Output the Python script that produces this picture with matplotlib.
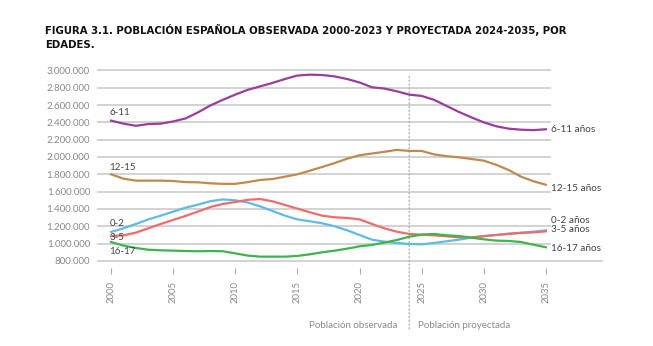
import matplotlib
matplotlib.use("Agg")
import matplotlib.pyplot as plt

# datos (2000-2035)
anios = list(range(2000, 2036))

edad_6_11 = [2420000, 2385000, 2360000, 2380000, 2385000, 2410000, 2445000, 2515000, 2595000, 2660000,
             2720000, 2775000, 2815000, 2855000, 2900000, 2940000, 2950000, 2946000, 2930000, 2900000,
             2860000, 2805000, 2790000, 2758000, 2720000, 2705000, 2660000, 2590000, 2520000, 2458000,
             2400000, 2355000, 2327000, 2315000, 2310000, 2320000]
edad_12_15 = [1800000, 1750000, 1727000, 1727000, 1727000, 1723000, 1710000, 1708000, 1696000, 1690000,
              1690000, 1710000, 1735000, 1746000, 1773000, 1800000, 1842000, 1885000, 1930000, 1980000,
              2020000, 2040000, 2060000, 2082000, 2070000, 2070000, 2030000, 2010000, 1996000, 1977000,
              1958000, 1910000, 1850000, 1773000, 1720000, 1680000]
edad_0_2 = [1135000, 1177000, 1227000, 1280000, 1323000, 1369000, 1415000, 1450000, 1490000, 1510000,
            1500000, 1475000, 1430000, 1377000, 1323000, 1280000, 1258000, 1235000, 1200000, 1154000,
            1100000, 1046000, 1023000, 1008000, 996000, 992000, 1008000, 1027000, 1046000, 1069000,
            1088000, 1100000, 1115000, 1127000, 1138000, 1154000]
edad_3_5 = [1088000, 1096000, 1127000, 1177000, 1227000, 1273000, 1320000, 1370000, 1423000, 1458000,
            1480000, 1506000, 1515000, 1488000, 1446000, 1404000, 1362000, 1323000, 1304000, 1296000,
            1280000, 1227000, 1177000, 1138000, 1112000, 1104000, 1096000, 1085000, 1073000, 1073000,
            1085000, 1100000, 1112000, 1123000, 1130000, 1142000]
edad_16_17 = [1019000, 977000, 950000, 930000, 923000, 919000, 915000, 912000, 915000, 912000,
              888000, 862000, 850000, 850000, 850000, 858000, 877000, 900000, 919000, 942000,
              969000, 985000, 1012000, 1042000, 1080000, 1104000, 1112000, 1096000, 1088000, 1069000,
              1050000, 1035000, 1031000, 1019000, 988000, 958000]

series = [
    ("6-11", edad_6_11, "#9c3c9e", 6, 0),
    ("12-15", edad_12_15, "#c08a4c", 5, -3),
    ("0-2", edad_0_2, "#5cbce6", 6, 7),
    ("3-5", edad_3_5, "#f26b6b", -1, 1),
    ("16-17", edad_16_17, "#3cb54a", -7, -1),
]

ticks_y = list(range(800000, 3000001, 200000))
ticks_x = list(range(2000, 2036, 5))

plt.rcParams['font.family'] = ['Lato', 'DejaVu Sans']

fig = plt.figure(figsize=(6.53, 3.46), dpi=100)
ax = fig.add_axes([97 / 653, 0.2257, 506 / 653, 0.576])
ax.set_xlim(1998.87, 2039.6)
ax.set_ylim(720000, 3020000)

# lineas de referencia
for v in ticks_y:
    fin = 2039.6 if v == 800000 else 2035.4
    ax.hlines(v, 1998.87, fin, color="#cfcfcf", lw=1.3, zorder=1)

# separacion observada / proyectada
ax.annotate("", xy=(2024, 0.985), xycoords=("data", "axes fraction"),
            xytext=(2024, -0.32), textcoords=("data", "axes fraction"),
            arrowprops=dict(arrowstyle="-", color="#aaaaaa", lw=0.9, ls=(0, (1, 2))))

for nombre, valores, color, dy_izq, dy_der in series:
    ax.plot(anios, valores, color=color, lw=1.6, zorder=3)
    ax.annotate(nombre, (anios[0], valores[0]), xytext=(-1, dy_izq), textcoords="offset points",
                ha="left", va="center", fontsize=7, color="#444444")
    ax.annotate(nombre + " años", (anios[-1], valores[-1]), xytext=(4, dy_der),
                textcoords="offset points", ha="left", va="center", fontsize=7.2, color="#444444")

ax.set_yticks(ticks_y)
ax.set_yticklabels(["{:,}".format(v).replace(",", ".") for v in ticks_y])
ax.set_xticks(ticks_x)
ax.set_xticklabels([str(a) for a in ticks_x], rotation=90)
ax.tick_params(axis="y", length=0, pad=5, labelsize=7, labelcolor="#8a8a8a")
ax.tick_params(axis="x", length=4.5, width=0.8, color="#aaaaaa", pad=5, labelsize=6.8, labelcolor="#8a8a8a")
for s in ax.spines.values():
    s.set_visible(False)

fig.text(397 / 653, 1 - 326 / 346, "Población observada", ha="right", va="center", fontsize=7, color="#8a8a8a")
fig.text(418 / 653, 1 - 326 / 346, "Población proyectada", ha="left", va="center", fontsize=7, color="#8a8a8a")

# titulo, ajustado al ancho del original (~521 px)
fuente_titulo = dict(family=["DejaVu Sans", "Lato"], fontweight="bold", fontstretch="condensed")
t1 = fig.text(45 / 653, 1 - 30 / 346,
              "FIGURA 3.1. POBLACIÓN ESPAÑOLA OBSERVADA 2000-2023 Y PROYECTADA 2024-2035, POR",
              ha="left", va="center", fontsize=9, color="#111111", **fuente_titulo)
t2 = fig.text(45 / 653, 1 - 45.5 / 346, "EDADES.", ha="left", va="center", fontsize=9,
              color="#111111", **fuente_titulo)
r = fig.canvas.get_renderer()
ancho = t1.get_window_extent(r).width
tam = 9 * 521 / ancho
t1.set_fontsize(tam)
t2.set_fontsize(tam)

fig.savefig("out.png", dpi=100)
